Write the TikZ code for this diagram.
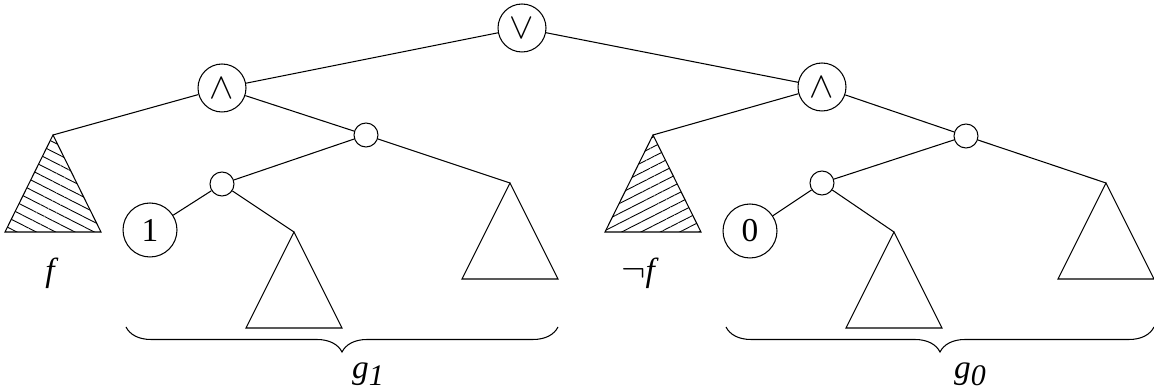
\documentclass[tikz,border=0pt]{standalone}
\usepackage{fontspec}
\setmainfont{Liberation Serif}
\usetikzlibrary{positioning,decorations.pathreplacing,patterns.meta}

\begin{document}
\begin{tikzpicture}[
        x=0.02cm, y=-0.02cm,
        line width=0.6pt,
        every node/.style={font=\fontsize{19}{22}\selectfont},
        opnode/.style={circle, draw=black, line width=0.6pt, minimum size=0.96cm, inner sep=0pt, font=\fontsize{21}{21}\selectfont},
        innode/.style={circle, draw=black, line width=0.6pt, minimum size=0.48cm, inner sep=0pt},
        leafnode/.style={circle, draw=black, line width=0.6pt, minimum size=1.08cm, inner sep=0pt},
        hatchL/.style={pattern={Lines[angle=-27, distance=5pt, line width=0.5pt]}},
        hatchR/.style={pattern={Lines[angle=27, distance=5pt, line width=0.5pt]}},
        gbrace/.style={decorate, decoration={brace, mirror, amplitude=0.5cm}}
        ]
        \useasboundingbox (0,0) rectangle (1154,391);

        % Gate and inner nodes
        \node[opnode] (or) at (522,28) {$\vee$};
        \node[opnode] (andL) at (222,88) {$\wedge$};
        \node[opnode] (andR) at (822,87) {$\wedge$};
        \node[innode] (nL1) at (366,135) {};
        \node[innode] (nL2) at (222,184) {};
        \node[innode] (nR1) at (966,136) {};
        \node[innode] (nR2) at (822,183) {};
        \node[leafnode] (one) at (150,230) {1};
        \node[leafnode] (zero) at (750,231) {0};

        % Apexes of the subtrees
        \coordinate (fT) at (53,135);
        \coordinate (nfT) at (653,135);
        \coordinate (tL1) at (510,183);
        \coordinate (tL2) at (294,232);
        \coordinate (tR1) at (1106,183);
        \coordinate (tR2) at (894,232);

        % Subtrees
        \draw[hatchL] (fT) -- ++(-48,97) -- ++(96,0) -- cycle;
        \draw[hatchR] (nfT) -- ++(-48,97) -- ++(96,0) -- cycle;
        \foreach \t in {tL1,tL2,tR1,tR2}
            \draw (\t) -- ++(-48,96) -- ++(96,0) -- cycle;

        % Edges
        \foreach \a/\b in {or/andL, or/andR, andL/fT, andL/nL1, nL1/nL2, nL1/tL1, nL2/one, nL2/tL2,
                           andR/nfT, andR/nR1, nR1/nR2, nR1/tR1, nR2/zero, nR2/tR2}
            \draw (\a) -- (\b);

        % Labels
        \node (fLab) at (52,273) {\textit{f}};
        \node (nfLab) at (640,273) {{\fontsize{22}{22}\selectfont$\neg$}\textit{f}};

        % Braces
        \coordinate (bL1) at (126,327);
        \coordinate (bL2) at (558,327);
        \coordinate (bR1) at (726,327);
        \coordinate (bR2) at (1154,327);
        \draw[gbrace] (bL1) -- (bL2);
        \draw[gbrace] (bR1) -- (bR2);
        \node (g1) at (368,374) {\textit{g\raisebox{-0.45ex}{\fontsize{17}{17}\selectfont 1}}};
        \node (g0) at (970,374) {\textit{g\raisebox{-0.45ex}{\fontsize{17}{17}\selectfont 0}}};

    \end{tikzpicture}
\end{document}
